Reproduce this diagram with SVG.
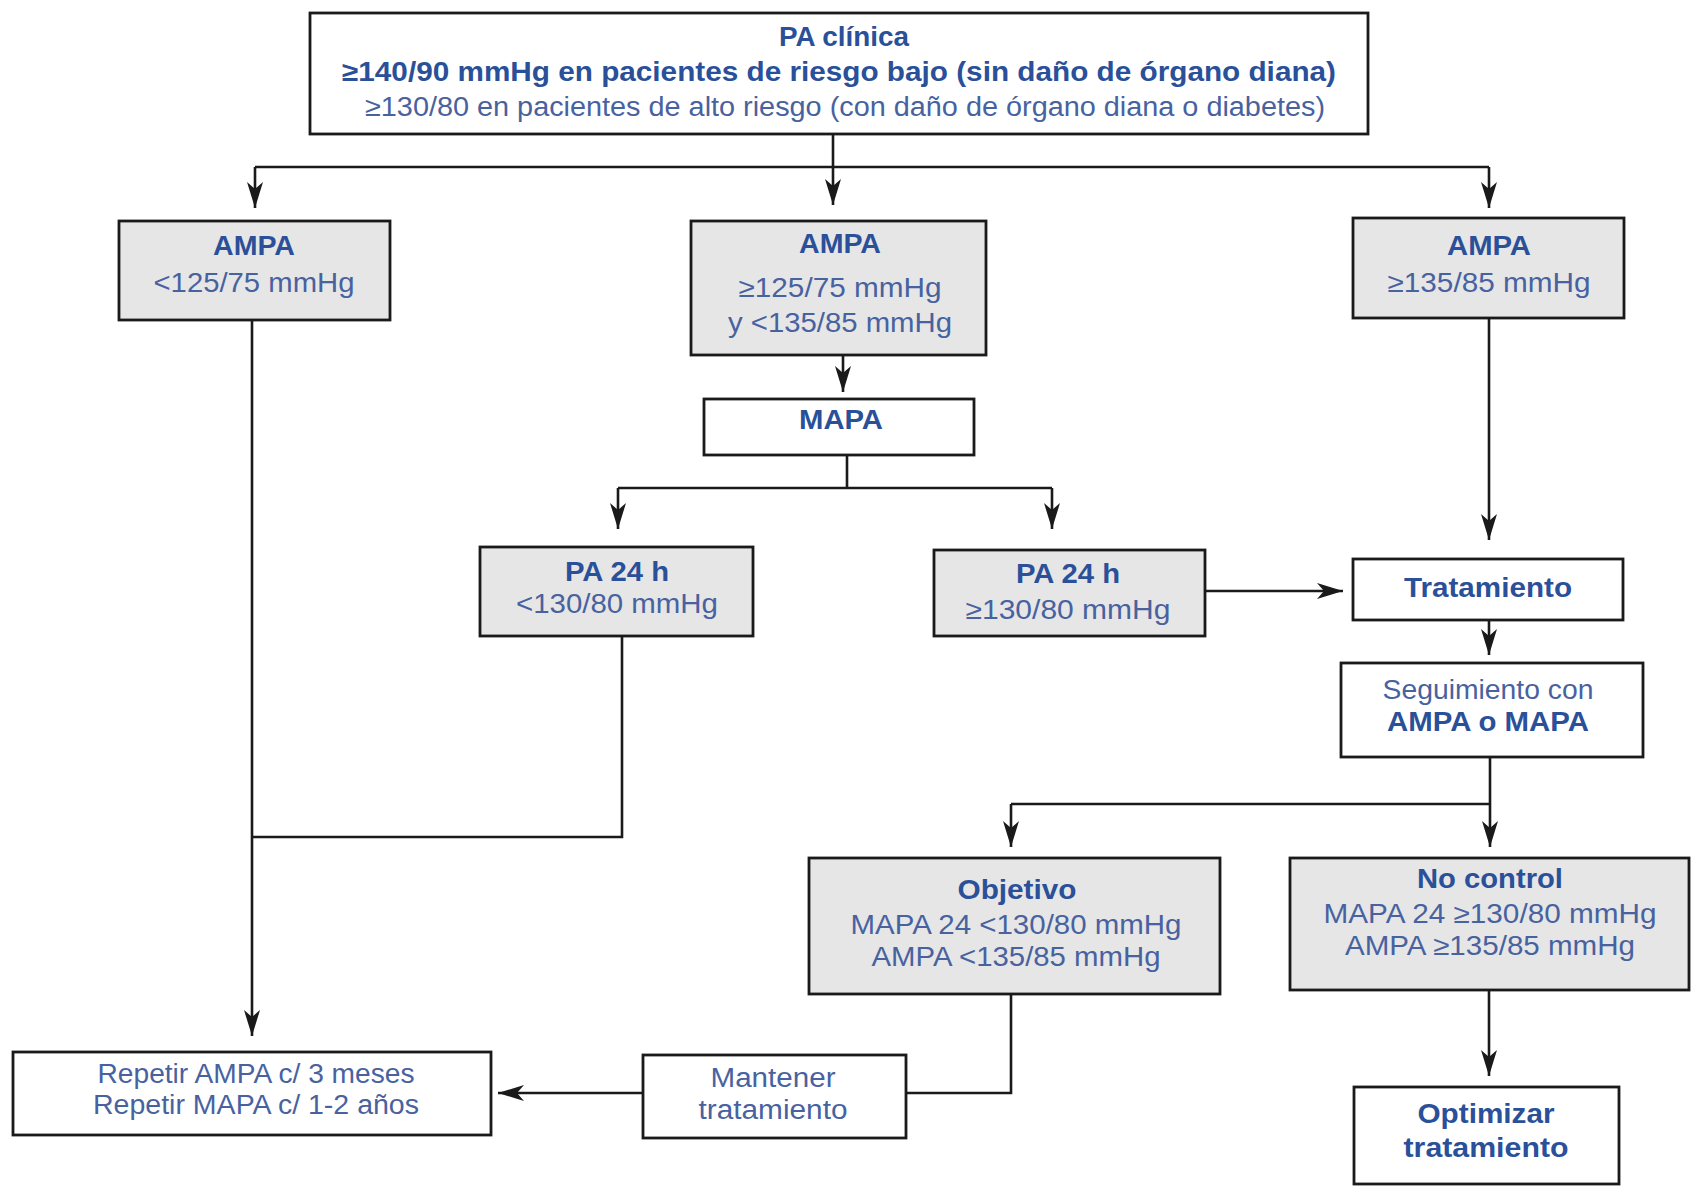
<svg xmlns="http://www.w3.org/2000/svg" width="1692" height="1186" viewBox="0 0 1692 1186">
<style>
rect.box{fill:#ffffff;stroke:#1a1a1a;stroke-width:2.8}
rect.gray{fill:#e6e6e6}
text{font-family:"Liberation Sans",Arial,sans-serif;font-size:27px;text-anchor:middle}
.b{font-weight:bold;fill:#2a5099}
.n{fill:#4862a0}
.c{fill:none;stroke:#1a1a1a;stroke-width:2.6}
.a{marker-end:url(#arr)}
</style>
<defs>
<marker id="arr" markerUnits="userSpaceOnUse" markerWidth="28" markerHeight="18" refX="26" refY="8" orient="auto">
<path d="M0,0 L26,8 L0,16 L7,8 z" fill="#1a1a1a"/>
</marker>
</defs>
<rect width="1692" height="1186" fill="#ffffff"/>
<g id="connectors">
<path class="c" d="M833,134 V167 M255,167 H1489"/>
<path class="c a" d="M255,167 V208"/>
<path class="c a" d="M833,167 V205"/>
<path class="c a" d="M1489,167 V208"/>
<path class="c a" d="M843,355 V392"/>
<path class="c" d="M847,455 V488 M618,488 H1052"/>
<path class="c a" d="M618,488 V529"/>
<path class="c a" d="M1052,488 V529"/>
<path class="c a" d="M1489,318 V540"/>
<path class="c a" d="M1205,591 H1343"/>
<path class="c a" d="M1489,620 V655"/>
<path class="c" d="M1490,757 V804 M1011,804 H1490"/>
<path class="c a" d="M1011,804 V847"/>
<path class="c a" d="M1490,804 V847"/>
<path class="c a" d="M1489,990 V1076"/>
<path class="c" d="M1011,994 V1093 H906"/>
<path class="c a" d="M643,1093 H498"/>
<path class="c a" d="M252,320 V1036"/>
<path class="c" d="M252,837 H622 V636"/>
</g>
<g id="pa-clinica">
<rect class="box" x="310" y="13" width="1058" height="121"/>
<text class="b" x="844" y="46" textLength="130" lengthAdjust="spacingAndGlyphs">PA clínica</text>
<text class="b" x="839" y="81" textLength="994" lengthAdjust="spacingAndGlyphs">≥140/90 mmHg en pacientes de riesgo bajo (sin daño de órgano diana)</text>
<text class="n" x="845" y="116" textLength="960" lengthAdjust="spacingAndGlyphs">≥130/80 en pacientes de alto riesgo (con daño de órgano diana o diabetes)</text>
</g>
<g id="ampa-bajo">
<rect class="box gray" x="119" y="221" width="271" height="99"/>
<text class="b" x="254" y="255" textLength="82" lengthAdjust="spacingAndGlyphs">AMPA</text>
<text class="n" x="254" y="292" textLength="201" lengthAdjust="spacingAndGlyphs">&lt;125/75 mmHg</text>
</g>
<g id="ampa-medio">
<rect class="box gray" x="691" y="221" width="295" height="134"/>
<text class="b" x="840" y="253" textLength="82" lengthAdjust="spacingAndGlyphs">AMPA</text>
<text class="n" x="840" y="297" textLength="203" lengthAdjust="spacingAndGlyphs">≥125/75 mmHg</text>
<text class="n" x="840" y="332" textLength="224" lengthAdjust="spacingAndGlyphs">y &lt;135/85 mmHg</text>
</g>
<g id="ampa-alto">
<rect class="box gray" x="1353" y="218" width="271" height="100"/>
<text class="b" x="1489" y="255" textLength="84" lengthAdjust="spacingAndGlyphs">AMPA</text>
<text class="n" x="1489" y="292" textLength="203" lengthAdjust="spacingAndGlyphs">≥135/85 mmHg</text>
</g>
<g id="mapa">
<rect class="box" x="704" y="399" width="270" height="56"/>
<text class="b" x="841" y="429" textLength="84" lengthAdjust="spacingAndGlyphs">MAPA</text>
</g>
<g id="pa24-bajo">
<rect class="box gray" x="480" y="547" width="273" height="89"/>
<text class="b" x="617" y="581" textLength="104" lengthAdjust="spacingAndGlyphs">PA 24 h</text>
<text class="n" x="617" y="613" textLength="202" lengthAdjust="spacingAndGlyphs">&lt;130/80 mmHg</text>
</g>
<g id="pa24-alto">
<rect class="box gray" x="934" y="550" width="271" height="86"/>
<text class="b" x="1068" y="583" textLength="104" lengthAdjust="spacingAndGlyphs">PA 24 h</text>
<text class="n" x="1068" y="619" textLength="205" lengthAdjust="spacingAndGlyphs">≥130/80 mmHg</text>
</g>
<g id="tratamiento">
<rect class="box" x="1353" y="559" width="270" height="61"/>
<text class="b" x="1488" y="597" textLength="168" lengthAdjust="spacingAndGlyphs">Tratamiento</text>
</g>
<g id="seguimiento">
<rect class="box" x="1341" y="663" width="302" height="94"/>
<text class="n" x="1488" y="699" textLength="211" lengthAdjust="spacingAndGlyphs">Seguimiento con</text>
<text class="b" x="1488" y="731" textLength="202" lengthAdjust="spacingAndGlyphs">AMPA o MAPA</text>
</g>
<g id="objetivo">
<rect class="box gray" x="809" y="858" width="411" height="136"/>
<text class="b" x="1017" y="899" textLength="119" lengthAdjust="spacingAndGlyphs">Objetivo</text>
<text class="n" x="1016" y="934" textLength="331" lengthAdjust="spacingAndGlyphs">MAPA 24 &lt;130/80 mmHg</text>
<text class="n" x="1016" y="966" textLength="289" lengthAdjust="spacingAndGlyphs">AMPA &lt;135/85 mmHg</text>
</g>
<g id="no-control">
<rect class="box gray" x="1290" y="858" width="399" height="132"/>
<text class="b" x="1490" y="888" textLength="146" lengthAdjust="spacingAndGlyphs">No control</text>
<text class="n" x="1490" y="923" textLength="333" lengthAdjust="spacingAndGlyphs">MAPA 24 ≥130/80 mmHg</text>
<text class="n" x="1490" y="955" textLength="290" lengthAdjust="spacingAndGlyphs">AMPA ≥135/85 mmHg</text>
</g>
<g id="optimizar">
<rect class="box" x="1354" y="1087" width="265" height="97"/>
<text class="b" x="1486" y="1123" textLength="137" lengthAdjust="spacingAndGlyphs">Optimizar</text>
<text class="b" x="1486" y="1157" textLength="165" lengthAdjust="spacingAndGlyphs">tratamiento</text>
</g>
<g id="mantener">
<rect class="box" x="643" y="1055" width="263" height="83"/>
<text class="n" x="773" y="1087" textLength="125" lengthAdjust="spacingAndGlyphs">Mantener</text>
<text class="n" x="773" y="1119" textLength="149" lengthAdjust="spacingAndGlyphs">tratamiento</text>
</g>
<g id="repetir">
<rect class="box" x="13" y="1052" width="478" height="83"/>
<text class="n" x="256" y="1083" textLength="317" lengthAdjust="spacingAndGlyphs">Repetir AMPA c/ 3 meses</text>
<text class="n" x="256" y="1114" textLength="326" lengthAdjust="spacingAndGlyphs">Repetir MAPA c/ 1-2 años</text>
</g>
</svg>
